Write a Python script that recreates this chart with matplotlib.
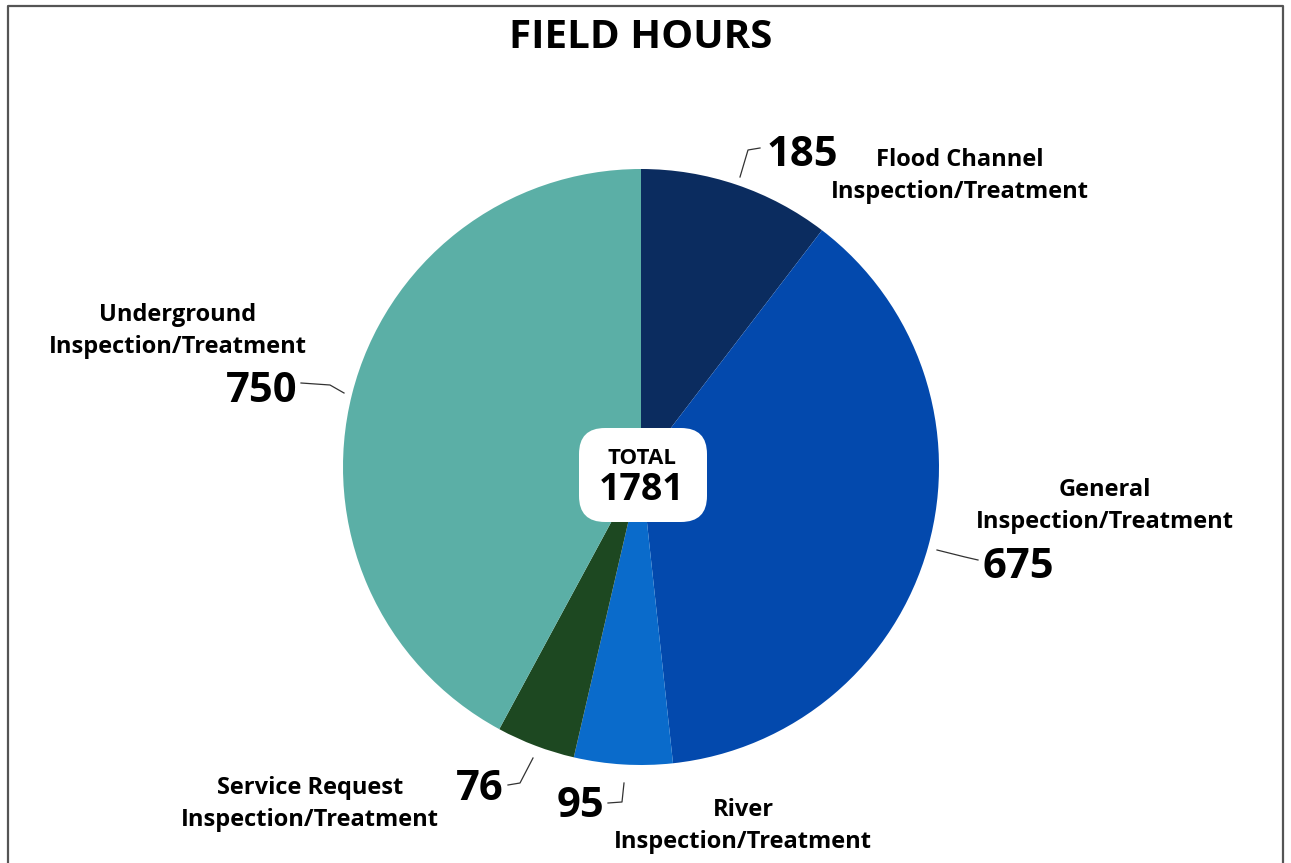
import matplotlib
matplotlib.use('Agg')
import matplotlib.pyplot as plt
from matplotlib.patches import FancyBboxPatch

# field hours per work category, clockwise from 12 o'clock
categories = ["Flood Channel\nInspection/Treatment",
              "General\nInspection/Treatment",
              "River\nInspection/Treatment",
              "Service Request\nInspection/Treatment",
              "Underground\nInspection/Treatment"]
hours = [185, 675, 95, 76, 750]
colors = ["#0b2c5f", "#0349ad", "#0a6bcb", "#1d4821", "#5bafa6"]

W, H = 1291, 863
fig = plt.figure(figsize=(W / 100, H / 100), dpi=100)
ax = fig.add_axes([0, 0, 1, 1])
ax.set_xlim(0, W)
ax.set_ylim(0, H)
ax.set_aspect('equal')
ax.axis('off')

def py(y):
    # image rows count from the top
    return H - y

cx, cy, r = 641, 467, 298
ax.pie(hours, colors=colors, startangle=90, counterclock=False,
       center=(cx, py(cy)), radius=r, wedgeprops=dict(linewidth=0))
ax.set_xlim(0, W)
ax.set_ylim(0, H)

# frame
ax.plot([8, 8, 1283, 1283], [0, py(6), py(6), 0], color="#555555", lw=1.6)

font = "Open Sans"
ax.text(641, py(38), "FIELD HOURS", ha='center', va='center',
        fontsize=29, fontweight='bold', family=font)

# total box in the middle
box = FancyBboxPatch((579, py(522)), 128, 94, boxstyle="round,pad=0,rounding_size=26",
                     fc="white", ec="none")
ax.add_patch(box)
ax.text(642, py(458), "TOTAL", ha='center', va='center', fontsize=16,
        fontweight='bold', family=font)
total = sum(hours)
ax.text(642, py(490), str(total), ha='center', va='center', fontsize=27,
        fontweight='bold', family=font)

lab = dict(fontsize=17, fontweight='bold', family=font, linespacing=1.4)
num = dict(fontsize=30, fontweight='bold', family=font)
lead = dict(color="#333333", lw=0.9)

# flood channel
ax.text(802, py(156), str(hours[0]), ha='center', va='center', **num)
ax.text(960, py(176), categories[0], ha='center', va='center', **lab)
ax.plot([740, 748, 760], [py(177), py(150), py(148)], **lead)

# general
ax.text(1105, py(506), categories[1], ha='center', va='center', **lab)
ax.text(982, py(567), str(hours[1]), ha='left', va='center', **num)
ax.plot([937, 965, 978], [py(550), py(557), py(560)], **lead)

# river
ax.text(580, py(806), str(hours[2]), ha='center', va='center', **num)
ax.text(743, py(826), categories[2], ha='center', va='center', **lab)
ax.plot([608, 622, 624], [py(803), py(802), py(783)], **lead)

# service request
ax.text(480, py(789), str(hours[3]), ha='center', va='center', **num)
ax.text(310, py(804), categories[3], ha='center', va='center', **lab)
ax.plot([508, 520, 533], [py(785), py(783), py(758)], **lead)

# underground
ax.text(178, py(331), categories[4], ha='center', va='center', **lab)
ax.text(297, py(392), str(hours[4]), ha='right', va='center', **num)
ax.plot([301, 330, 344], [py(383), py(385), py(393)], **lead)

fig.savefig("out.png", dpi=100, facecolor="white")
